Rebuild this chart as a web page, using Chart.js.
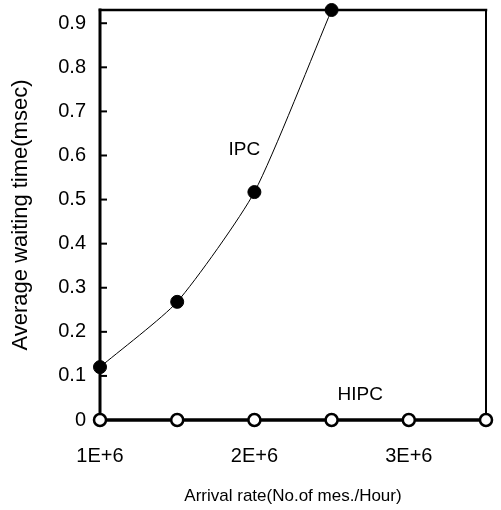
<!DOCTYPE html>
<html>
<head>
<meta charset="utf-8">
<script src="https://cdn.jsdelivr.net/npm/chart.js@4"></script>
<style>
  html, body { margin: 0; padding: 0; background: #fff; }
  #wrap { width: 501px; height: 510px; position: relative; }
</style>
</head>
<body>
<div id="wrap"><canvas id="waitChart"></canvas></div>
<script>
// arrival rate (msgs / hour)
const arrivalRates = [1e6, 1.5e6, 2e6, 2.5e6, 3e6, 3.5e6];
const ipcWait = [0.12, 0.268, 0.517, 0.93];
const hipcWait = [0, 0, 0, 0, 0, 0];
const yTickValues = [0, 0.1, 0.2, 0.3, 0.4, 0.5, 0.6, 0.7, 0.8, 0.9];
const xTickValues = [1e6, 2e6, 3e6];
// curve labels: [text, x value, y value]
const curveLabels = [
  ['IPC', 1.935e6, 0.612],
  ['HIPC', 2.686e6, 0.057]
];

const FONT = "'Liberation Sans', Arial, sans-serif";

const toPoints = (ys) => ys.map((y, i) => ({ x: arrivalRates[i], y }));

// box, inward ticks and curve labels
const frameAndLabels = {
  id: 'frameAndLabels',
  beforeDatasetsDraw(chart) {
    const { ctx, chartArea: a, scales } = chart;
    ctx.save();
    ctx.strokeStyle = '#000';
    ctx.lineCap = 'square';
    const side = (x1, y1, x2, y2, w) => {
      ctx.lineWidth = w;
      ctx.beginPath();
      ctx.moveTo(x1, y1);
      ctx.lineTo(x2, y2);
      ctx.stroke();
    };
    side(a.left, a.top, a.right, a.top, 2.5);
    side(a.right, a.top, a.right, a.bottom, 2);
    side(a.left, a.top, a.left, a.bottom, 3);
    side(a.left, a.bottom, a.right, a.bottom, 3);
    ctx.lineWidth = 2;
    scales.y.ticks.forEach((t) => {
      const py = scales.y.getPixelForValue(t.value);
      ctx.beginPath();
      ctx.moveTo(a.left, py);
      ctx.lineTo(a.left + 6, py);
      ctx.stroke();
    });
    ctx.restore();
  },
  afterDatasetsDraw(chart) {
    const { ctx, scales } = chart;
    ctx.save();
    ctx.fillStyle = '#000';
    ctx.font = '19px ' + FONT;
    ctx.textAlign = 'center';
    ctx.textBaseline = 'middle';
    curveLabels.forEach(([txt, xv, yv]) => {
      ctx.fillText(txt, scales.x.getPixelForValue(xv), scales.y.getPixelForValue(yv));
    });
    ctx.restore();
  }
};

new Chart(document.getElementById('waitChart'), {
  type: 'line',
  data: {
    datasets: [
      {
        label: 'IPC',
        data: toPoints(ipcWait),
        borderColor: '#000',
        borderWidth: 1,
        tension: 0.2,
        pointRadius: 6.5,
        pointBackgroundColor: '#000',
        pointBorderColor: '#000',
        pointBorderWidth: 1,
        clip: false
      },
      {
        label: 'HIPC',
        data: toPoints(hipcWait),
        borderColor: '#000',
        borderWidth: 3,
        tension: 0,
        pointRadius: 6,
        pointBackgroundColor: '#fff',
        pointBorderColor: '#000',
        pointBorderWidth: 2.5,
        clip: false
      }
    ]
  },
  options: {
    responsive: true,
    maintainAspectRatio: false,
    animation: false,
    layout: { padding: { top: 10, right: 15, left: 0, bottom: 0 } },
    plugins: {
      legend: { display: false },
      tooltip: { enabled: false }
    },
    scales: {
      x: {
        type: 'linear',
        min: 1e6,
        max: 3.5e6,
        afterBuildTicks: (s) => { s.ticks = xTickValues.map((v) => ({ value: v })); },
        afterFit: (s) => { s.height = 90; s.paddingLeft = 0; s.paddingRight = 0; },
        grid: { display: false, drawTicks: false },
        border: { display: false },
        ticks: {
          padding: 24,
          color: '#000',
          maxRotation: 0,
          font: { family: FONT, size: 20 },
          callback: (v) => `${v / 1e6}E+6`
        },
        title: {
          display: true,
          text: 'Arrival rate(No.of mes./Hour)',
          color: '#000',
          font: { family: FONT, size: 17 },
          padding: { top: 0, bottom: 3 }
        }
      },
      y: {
        min: 0,
        max: 0.93,
        afterBuildTicks: (s) => { s.ticks = yTickValues.map((v) => ({ value: v })); },
        afterFit: (s) => { s.width = 100; s.paddingTop = 0; s.paddingBottom = 0; },
        grid: { display: false, drawTicks: false },
        border: { display: false },
        ticks: {
          padding: 14,
          color: '#000',
          font: { family: FONT, size: 20 },
          callback: (v) => (v === 0 ? '0' : v.toFixed(1))
        },
        title: {
          display: true,
          text: 'Average waiting time(msec)',
          color: '#000',
          font: { family: FONT, size: 22 },
          padding: { top: 8, bottom: 0 }
        }
      }
    }
  },
  plugins: [frameAndLabels]
});
</script>
</body>
</html>
